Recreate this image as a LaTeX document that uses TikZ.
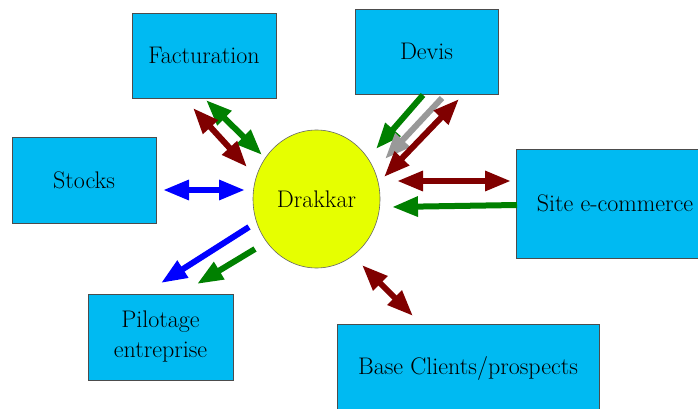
\documentclass[tikz,border=0pt]{standalone}
\usetikzlibrary{arrows.meta,shapes.geometric}
\definecolor{boxblue}{RGB}{0,186,242}
\definecolor{hubyellow}{RGB}{230,255,0}
\definecolor{darkred}{RGB}{128,0,0}
\definecolor{darkgreen}{RGB}{0,128,0}
\definecolor{arrgray}{RGB}{153,153,153}

\begin{document}
\begin{tikzpicture}[
  x=1pt, y=-1pt,
  font=\fontsize{24}{30}\selectfont,
  box/.style={draw=black!70, line width=0.8pt, fill=boxblue, align=center, inner sep=0pt},
  hub/.style={ellipse, draw=black!60, line width=0.6pt, fill=hubyellow, inner sep=0pt,
    minimum width=127pt, minimum height=138pt},
  arr/.style={line width=6pt, -{Triangle[length=26pt, width=19pt]}},
  darr/.style={line width=6pt, {Triangle[length=26pt, width=19pt]}-{Triangle[length=26pt, width=19pt]}}
]
\useasboundingbox (0,0) rectangle (698,409);

\node[box, minimum width=144pt, minimum height=85pt] (fact) at (204,55.5) {Facturation};
\node[box, minimum width=143pt, minimum height=85pt] (devis) at (426.5,51.5) {Devis};
\node[box, minimum width=144pt, minimum height=86pt] (stocks) at (84,180) {Stocks};
\node[box, minimum width=198pt, minimum height=109pt] (site) at (615,203.5) {Site e-commerce};
\node[box, minimum width=145pt, minimum height=86pt] (pilot) at (160.5,337) {Pilotage\\entreprise};
\node[box, minimum width=262pt, minimum height=88pt] (base) at (468,368) {Base Clients/prospects};

\node[hub] (drakkar) at (316.5,199) {Drakkar};

% arrow ends
\coordinate (fg1) at (206,100);  \coordinate (fg2) at (262,155);
\coordinate (fr1) at (193,108);  \coordinate (fr2) at (247,167);
\coordinate (sb1) at (163,190);  \coordinate (sb2) at (245,190);
\coordinate (pb1) at (249,227);  \coordinate (pb2) at (161,283);
\coordinate (pg1) at (255,249);  \coordinate (pg2) at (197,284);
\coordinate (dg1) at (423,95);   \coordinate (dg2) at (376,149);
\coordinate (dy1) at (442,98);   \coordinate (dy2) at (385,159);
\coordinate (dr1) at (459,99);   \coordinate (dr2) at (384,177);
\coordinate (er1) at (511,181);  \coordinate (er2) at (397,181);
\coordinate (eg1) at (517,205);  \coordinate (eg2) at (392,207);
\coordinate (br1) at (362,265);  \coordinate (br2) at (413,316);

\draw[darr, darkgreen] (fg1) -- (fg2);
\draw[darr, darkred] (fr1) -- (fr2);
\draw[darr, blue] (sb1) -- (sb2);
\draw[arr, blue] (pb1) -- (pb2);
\draw[arr, darkgreen] (pg1) -- (pg2);
\draw[arr, darkgreen] (dg1) -- (dg2);
\draw[arr, arrgray] (dy1) -- (dy2);
\draw[darr, darkred] (dr1) -- (dr2);
\draw[darr, darkred] (er1) -- (er2);
\draw[arr, darkgreen] (eg1) -- (eg2);
\draw[darr, darkred] (br1) -- (br2);
\end{tikzpicture}
\end{document}
